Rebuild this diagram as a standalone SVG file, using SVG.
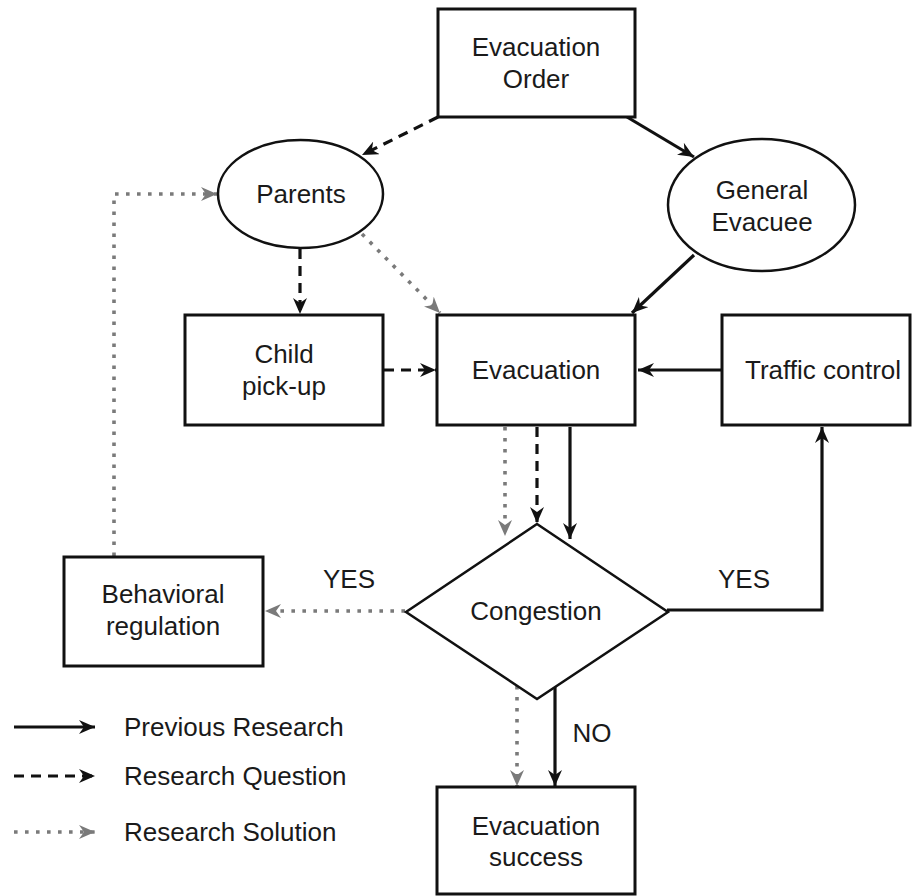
<svg xmlns="http://www.w3.org/2000/svg" width="912" height="896" viewBox="0 0 912 896">
<style>
.box{fill:#fff;stroke:#111;stroke-width:3}
.ell{fill:#fff;stroke:#111;stroke-width:2.5}
.t{font-family:"Liberation Sans",Arial,sans-serif;font-size:26px;fill:#1a1a1a;text-anchor:middle}
.tl{font-family:"Liberation Sans",Arial,sans-serif;font-size:26px;fill:#1a1a1a}
.solid{fill:none;stroke:#111;stroke-width:3.2;marker-end:url(#ab)}
.dash{fill:none;stroke:#111;stroke-width:3.2;stroke-dasharray:10,7;marker-end:url(#ab)}
.dot{fill:none;stroke:#7a7a7a;stroke-width:3.6;stroke-dasharray:3.6,7.4;marker-end:url(#ag)}
</style>
<defs>
<marker id="ab" markerUnits="userSpaceOnUse" markerWidth="18" markerHeight="14" refX="16" refY="7" orient="auto">
<path d="M0,0 L16,7 L0,14 L5,7 Z" fill="#111"/>
</marker>
<marker id="ag" markerUnits="userSpaceOnUse" markerWidth="18" markerHeight="14" refX="16" refY="7" orient="auto">
<path d="M0,0 L16,7 L0,14 L5,7 Z" fill="#7a7a7a"/>
</marker>
</defs>
<g id="connectors">
<line class="solid" x1="627" y1="117" x2="694" y2="157"/>
<line class="dash" x1="438" y1="117" x2="362" y2="155"/>
<line class="dash" x1="300" y1="249" x2="300" y2="314"/>
<line class="dot" x1="362" y1="234" x2="440" y2="313"/>
<line class="solid" x1="694" y1="255" x2="632" y2="313"/>
<line class="dash" x1="384" y1="370" x2="436" y2="370"/>
<line class="solid" x1="722" y1="370" x2="638" y2="370"/>
<line class="dot" x1="505" y1="427" x2="505" y2="536"/>
<line class="dash" x1="537" y1="427" x2="537" y2="523"/>
<line class="solid" x1="570" y1="427" x2="570" y2="539"/>
<line class="dot" x1="405" y1="611" x2="265" y2="611"/>
<polyline class="solid" points="667,610 822,610 822,427"/>
<line class="solid" x1="555" y1="687" x2="555" y2="786"/>
<line class="dot" x1="517" y1="686" x2="517" y2="786"/>
<polyline class="dot" points="114,556 114,194 217,194"/>
</g>
<g id="evacuation-order">
<rect class="box" x="438" y="9" width="197" height="108"/>
<text class="t" x="536" y="56">Evacuation</text>
<text class="t" x="536" y="88">Order</text>
</g>
<g id="parents">
<ellipse class="ell" cx="300.5" cy="194" rx="82.5" ry="54"/>
<text class="t" x="301" y="203">Parents</text>
</g>
<g id="general-evacuee">
<ellipse class="ell" cx="761.5" cy="205" rx="93.5" ry="66"/>
<text class="t" x="762" y="199">General</text>
<text class="t" x="762" y="231">Evacuee</text>
</g>
<g id="child-pickup">
<rect class="box" x="185" y="315" width="198" height="110"/>
<text class="t" x="284" y="363">Child</text>
<text class="t" x="284" y="395">pick-up</text>
</g>
<g id="evacuation">
<rect class="box" x="437" y="315" width="198" height="110"/>
<text class="t" x="536" y="379">Evacuation</text>
</g>
<g id="traffic-control">
<rect class="box" x="722" y="315" width="188" height="110"/>
<text class="t" x="823" y="379">Traffic control</text>
</g>
<g id="congestion">
<polygon points="537,524 668,612 537,699 406,612" fill="#fff" stroke="#111" stroke-width="2.5"/>
<text class="t" x="536" y="620">Congestion</text>
</g>
<g id="behavioral-regulation">
<rect class="box" x="64" y="557" width="199" height="109"/>
<text class="t" x="163" y="603">Behavioral</text>
<text class="t" x="163" y="635">regulation</text>
</g>
<g id="evacuation-success">
<rect class="box" x="437" y="787" width="198" height="107"/>
<text class="t" x="536" y="835">Evacuation</text>
<text class="t" x="536" y="866">success</text>
</g>
<g id="labels">
<text class="t" x="349" y="588">YES</text>
<text class="t" x="744" y="588">YES</text>
<text class="t" x="592" y="742">NO</text>
</g>
<g id="legend">
<line class="solid" x1="14" y1="727" x2="95" y2="727"/>
<line class="dash" x1="14" y1="776" x2="95" y2="776"/>
<line class="dot" x1="14" y1="832" x2="95" y2="832"/>
<text class="tl" x="124" y="736">Previous Research</text>
<text class="tl" x="124" y="785">Research Question</text>
<text class="tl" x="124" y="841">Research Solution</text>
</g>
</svg>
